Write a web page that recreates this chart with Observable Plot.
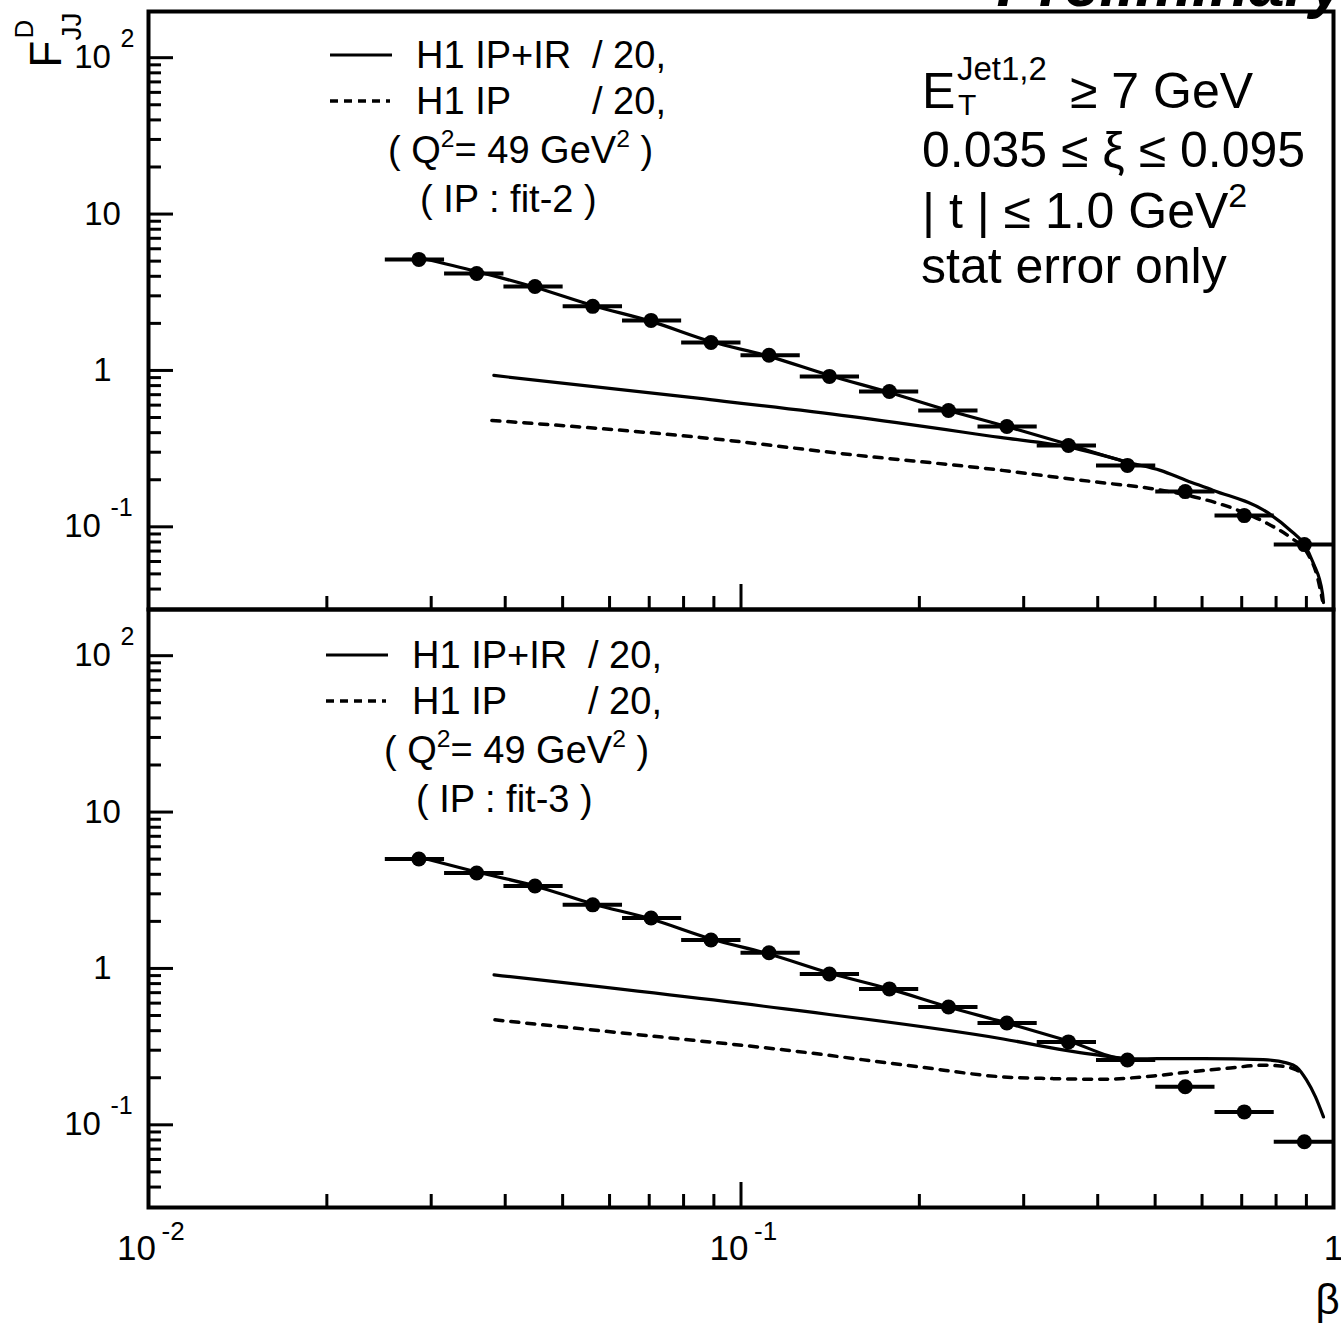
<!DOCTYPE html>
<html>
<head>
<meta charset="utf-8">
<script src="https://cdn.jsdelivr.net/npm/d3@7"></script>
<script src="https://cdn.jsdelivr.net/npm/@observablehq/plot@0.6"></script>
<style>
  body { margin: 0; background: #fff; }
  svg { display: block; }
</style>
</head>
<body>
<div id="chart"></div>
<script>
// ---------------- data ----------------
const panels = ["fit-2", "fit-3"];

// measured points: beta (bin position), bin edges, F_JJ^D
const beta  = [0.0286, 0.0358, 0.0449, 0.0562, 0.0705, 0.089, 0.1115, 0.141, 0.178, 0.224, 0.281, 0.357, 0.449, 0.562, 0.707, 0.893];
const binLo = [0.0251, 0.0316, 0.0398, 0.0501, 0.0631, 0.0794, 0.1, 0.1259, 0.1585, 0.1995, 0.2512, 0.3162, 0.3981, 0.5012, 0.631, 0.7943];
const binHi = [0.0316, 0.0398, 0.0501, 0.0631, 0.0794, 0.1, 0.1259, 0.1585, 0.1995, 0.2512, 0.3162, 0.3981, 0.5012, 0.631, 0.7943, 1.0];
const F_fit2 = [5.13, 4.17, 3.44, 2.57, 2.09, 1.51, 1.25, 0.916, 0.734, 0.555, 0.438, 0.331, 0.247, 0.168, 0.118, 0.077];
const F_fit3 = [5.01, 4.08, 3.37, 2.55, 2.10, 1.52, 1.26, 0.922, 0.740, 0.567, 0.448, 0.339, 0.260, 0.175, 0.121, 0.078];

// curves, top panel (fit-2)
const fitTopBeta = [0.0286, 0.0358, 0.0449, 0.0562, 0.0705, 0.089, 0.1115, 0.141, 0.178, 0.224, 0.281, 0.357, 0.4505, 0.5103, 0.5646, 0.627, 0.7735, 0.846, 0.8899, 0.9252, 0.9581, 0.9618];
const fitTopF    = [5.28, 4.30, 3.40, 2.60, 2.06, 1.53, 1.23, 0.929, 0.723, 0.555, 0.438, 0.336, 0.258, 0.2296, 0.198, 0.171, 0.1236, 0.0948, 0.0783, 0.0583, 0.0375, 0.0328];
const ipirTopBeta = [0.03827, 0.08524, 0.1528, 0.2738, 0.3594, 0.4505];
const ipirTopF    = [0.929, 0.662, 0.508, 0.373, 0.322, 0.258];
const ipTopBeta = [0.03798, 0.08524, 0.1528, 0.2759, 0.3327, 0.4042, 0.4908, 0.596, 0.6778, 0.7735, 0.846, 0.9039, 0.9397, 0.9581];
const ipTopF    = [0.479, 0.373, 0.290, 0.2296, 0.210, 0.192, 0.176, 0.152, 0.131, 0.105, 0.0855, 0.0676, 0.0475, 0.0338];

// curves, bottom panel (fit-3)
const fitBotBeta = [0.0286, 0.0358, 0.0449, 0.0562, 0.0705, 0.089, 0.1115, 0.141, 0.178, 0.224, 0.281, 0.357, 0.4487, 0.5103, 0.6031, 0.7616, 0.8329, 0.8659, 0.9003, 0.9324, 0.9618];
const fitBotF    = [5.16, 4.14, 3.37, 2.585, 2.07, 1.544, 1.238, 0.936, 0.740, 0.567, 0.448, 0.344, 0.264, 0.265, 0.265, 0.261, 0.249, 0.2346, 0.1937, 0.1508, 0.1123];
const ipirBotBeta = [0.0383, 0.1187, 0.2770, 0.3666, 0.4487];
const ipirBotF    = [0.909, 0.551, 0.354, 0.2924, 0.264];
const ipBotBeta = [0.03843, 0.07047, 0.1187, 0.1999, 0.2770, 0.3365, 0.4089, 0.4965, 0.5870, 0.6699, 0.7616, 0.8136, 0.8659, 0.8899];
const ipBotF    = [0.469, 0.370, 0.301, 0.2346, 0.2024, 0.1974, 0.1956, 0.2055, 0.2202, 0.2311, 0.2405, 0.238, 0.2244, 0.2086];

// axes
const yMajor = [0.1, 1, 10, 100];
const yMinor = [0.04, 0.05, 0.06, 0.07, 0.08, 0.09, 0.2, 0.3, 0.4, 0.5, 0.6, 0.7, 0.8, 0.9, 2, 3, 4, 5, 6, 7, 8, 9, 20, 30, 40, 50, 60, 70, 80, 90];
const xMajor = [0.1];
const xMinor = [0.02, 0.03, 0.04, 0.05, 0.06, 0.07, 0.08, 0.09, 0.2, 0.3, 0.4, 0.5, 0.6, 0.7, 0.8, 0.9];
const yTickVals = [100, 10, 1, 0.1];
const yTickBase = ["10", "10", "1", "10"];
const yTickSup  = ["2", "", "", "-1"];
const xTickVals = [0.01, 0.1, 1];
const xTickBase = ["10", "10", "1"];
const xTickSup  = ["-2", "-1", ""];

// ---------------- tables ----------------
const points = [];
panels.forEach((p, k) => {
  const F = k === 0 ? F_fit2 : F_fit3;
  beta.forEach((b, i) => points.push({panel: p, beta: b, lo: binLo[i], hi: binHi[i], F: F[i]}));
});
const curves = [];
function addCurve(panel, series, dash, xs, ys) {
  xs.forEach((x, i) => curves.push({panel, series, dash, beta: x, F: ys[i]}));
}
addCurve("fit-2", "fit", false, fitTopBeta, fitTopF);
addCurve("fit-2", "ipir", false, ipirTopBeta, ipirTopF);
addCurve("fit-2", "ip", true, ipTopBeta, ipTopF);
addCurve("fit-3", "fit", false, fitBotBeta, fitBotF);
addCurve("fit-3", "ipir", false, ipirBotBeta, ipirBotF);
addCurve("fit-3", "ip", true, ipBotBeta, ipBotF);

// ---------------- layout ----------------
const W = 1341, H = 1323, mL = 148, mR = 8, mT = 11, mB = 116;
const plotW = W - mL - mR;
const facetH = (H - mT - mB) / 2;
const FONT = "'Liberation Sans', Arial, Helvetica, sans-serif";

const labelMarks = [];
yTickVals.forEach((v, i) => {
  const s = yTickSup[i];
  const baseDx = s ? -46 - s.length * 10 : -46;
  labelMarks.push(Plot.text([v], {y: d => d, text: () => yTickBase[i], frameAnchor: "left", dx: baseDx, textAnchor: "middle", lineAnchor: "middle", fontSize: 33}));
  if (s) labelMarks.push(Plot.text([v], {y: d => d, text: () => s, frameAnchor: "left", dx: baseDx + 28, dy: -19, textAnchor: "start", lineAnchor: "middle", fontSize: 25}));
});
xTickVals.forEach((v, i) => {
  const s = xTickSup[i];
  const baseDx = s ? -12 : 0;
  labelMarks.push(Plot.text([v], {x: d => d, fy: () => "fit-3", text: () => xTickBase[i], frameAnchor: "bottom", dx: baseDx, dy: 41, textAnchor: "middle", lineAnchor: "middle", fontSize: 35}));
  if (s) labelMarks.push(Plot.text([v], {x: d => d, fy: () => "fit-3", text: () => s, frameAnchor: "bottom", dx: baseDx + 25, dy: 24, textAnchor: "start", lineAnchor: "middle", fontSize: 26}));
});
labelMarks.push(Plot.text(["β"], {x: () => 1, fy: () => "fit-3", text: d => d, frameAnchor: "bottom", dx: -6, dy: 93, textAnchor: "middle", lineAnchor: "middle", fontSize: 42}));
// y-axis title F^D_JJ (rotated)
labelMarks.push(Plot.text(["F"], {fy: () => "fit-2", text: d => d, frameAnchor: "top-left", rotate: -90, textAnchor: "start", lineAnchor: "bottom", dx: -88, dy: 56, fontSize: 44}));
labelMarks.push(Plot.text(["D"], {fy: () => "fit-2", text: d => d, frameAnchor: "top-left", rotate: -90, textAnchor: "start", lineAnchor: "bottom", dx: -116, dy: 27, fontSize: 26}));
labelMarks.push(Plot.text(["JJ"], {fy: () => "fit-2", text: d => d, frameAnchor: "top-left", rotate: -90, textAnchor: "start", lineAnchor: "bottom", dx: -68, dy: 29, fontSize: 28}));

const chart = Plot.plot({
  width: W, height: H,
  marginLeft: mL, marginRight: mR, marginTop: mT, marginBottom: mB,
  style: {fontFamily: FONT, color: "black", background: "white", overflow: "visible"},
  x: {type: "log", domain: [0.01, 1], axis: null},
  y: {type: "log", domain: [0.0296, 197.4], axis: null},
  fy: {domain: panels, padding: 0, axis: null},
  marks: [
    Plot.ruleY(yMinor, {y: d => d, insetRight: plotW - 13, stroke: "black", strokeWidth: 3}),
    Plot.ruleY(yMajor, {y: d => d, insetRight: plotW - 25, stroke: "black", strokeWidth: 3}),
    Plot.ruleX(xMinor, {x: d => d, insetTop: facetH - 13, stroke: "black", strokeWidth: 3}),
    Plot.ruleX(xMajor, {x: d => d, insetTop: facetH - 25, stroke: "black", strokeWidth: 3}),
    Plot.line(curves.filter(d => !d.dash), {x: "beta", y: "F", z: "series", fy: "panel", curve: "monotone-x", stroke: "black", strokeWidth: 3.2}),
    Plot.line(curves.filter(d => d.dash), {x: "beta", y: "F", z: "series", fy: "panel", curve: "monotone-x", stroke: "black", strokeWidth: 3.5, strokeDasharray: "8,8"}),
    Plot.ruleY(points, {y: "F", x1: "lo", x2: "hi", fy: "panel", stroke: "black", strokeWidth: 4}),
    Plot.dot(points, {x: "beta", y: "F", fy: "panel", r: 7.5, fill: "black"}),
    Plot.frame({stroke: "black", strokeWidth: 4}),
    ...labelMarks
  ]
});
document.getElementById("chart").appendChild(chart);

// ---------------- annotations (legend + cuts) ----------------
const svg = d3.select(chart);
const g = svg.append("g").attr("font-family", FONT).attr("fill", "black").attr("text-anchor", "start");
function rich(x, y, size, parts) {
  // parts: [text, kind, fontSize] kind: "n" normal, "sup", "sub"
  const t = g.append("text").attr("x", x).attr("y", y).attr("font-size", size)
    .attr("text-anchor", "start").style("white-space", "pre");
  let shift = 0;
  parts.forEach(([s, kind, fs]) => {
    const target = kind === "sup" ? -0.42 * size : kind === "sub" ? 0.3 * size : 0;
    t.append("tspan").attr("dy", target - shift).attr("font-size", fs || (kind === "n" ? size : size * 0.65)).text(s);
    shift = target;
  });
  return t;
}
function legend(y0, x0, fitLabel) {
  g.append("line").attr("x1", x0 + 330).attr("x2", x0 + 392).attr("y1", y0).attr("y2", y0).attr("stroke", "black").attr("stroke-width", 3);
  rich(x0 + 416, y0 + 13, 38, [["H1 IP+IR", "n"]]);
  rich(x0 + 592, y0 + 13, 38, [["/ 20,", "n"]]);
  g.append("line").attr("x1", x0 + 330).attr("x2", x0 + 390).attr("y1", y0 + 46).attr("y2", y0 + 46).attr("stroke", "black").attr("stroke-width", 3.5).attr("stroke-dasharray", "8,6");
  rich(x0 + 416, y0 + 59, 38, [["H1 IP", "n"]]);
  rich(x0 + 592, y0 + 59, 38, [["/ 20,", "n"]]);
  rich(x0 + 388, y0 + 108, 38, [["( Q", "n"], ["2", "sup"], ["= 49 GeV", "n"], ["2", "sup"], [" )", "n"]]);
  rich(x0 + 420, y0 + 157, 38, [["( IP : " + fitLabel + " )", "n"]]);
}
legend(55, 0, "fit-2");
legend(655, -4, "fit-3");

rich(922, 108, 50, [["E", "n"]]);
rich(958, 115, 30, [["T", "n"]]);
rich(957, 80, 33, [["Jet1,2", "n"]]);
rich(1070, 108, 50, [["≥ 7 GeV", "n"]]);
rich(922, 167, 50, [["0.035 ≤ ξ ≤ 0.095", "n"]]);
rich(922, 228, 50, [["| t | ≤ 1.0 GeV", "n"], ["2", "sup", 34]]);
rich(921, 283, 50, [["stat error only", "n"]]);

g.append("text").attr("x", 1345).attr("y", 6).attr("text-anchor", "end")
  .attr("font-size", 64).attr("font-weight", "bold").attr("font-style", "italic").text("Preliminary");
</script>
</body>
</html>
